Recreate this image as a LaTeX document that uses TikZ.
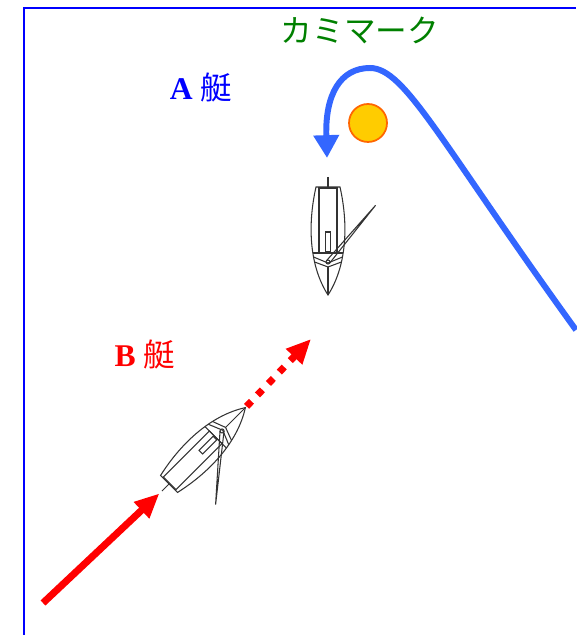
\documentclass[tikz,border=0pt]{standalone}
\usepackage{fontspec}
\setmainfont{Liberation Serif}
\newfontfamily\jp{Noto Sans CJK JP}
\usetikzlibrary{arrows.meta}

\definecolor{courseblue}{HTML}{3366FF}
\definecolor{buoyfill}{HTML}{FFCC00}
\definecolor{buoyline}{HTML}{FF6600}

% a dinghy seen from above: bow along +x, stern at the origin
% #1 = name prefix, #2 = boom angle
\newcommand\yacht[2]{%
  \draw (0,-12) .. controls (40,-21) and (80,-18) .. (108,0)
        .. controls (80,18) and (40,21) .. (0,12) -- cycle;
  \draw (1,-9) rectangle (66,9);
  \draw (45,-2.5) rectangle (65,2.5);
  \draw (66,-15.2) -- (66,15.2);
  \draw (70,-14.5) -- (76,0) -- (70,14.5);
  \draw (75,-13.4) -- (80,0) -- (75,13.4);
  \draw (80,0) -- (108,0);
  \draw (-10,0) -- (0,0);
  \draw (75,0) circle (2);
  % boom
  \begin{scope}[shift={(75,0)}, rotate=#2]
    \draw (0,-2) -- (74,0) -- (0,2);
  \end{scope}
  \coordinate (#1 bow) at (108,0);
  \coordinate (#1 stern) at (-10,0);
}

\begin{document}
\begin{tikzpicture}[x=.02cm, y=.02cm,
    boat/.style={draw=black!80, line width=.6pt},
    label/.style={font=\fontsize{18}{21}\selectfont},
    redarrow/.style={red, line width=4pt, -{Triangle[length=14pt,width=12pt]}},
    coursearrow/.style={courseblue, line width=3.4pt, -{Triangle[length=13pt,width=14pt]}}]
	\useasboundingbox (0,0) rectangle (576,635);

	% frame
	\draw[blue, line width=.6pt] (24,0) -- (24,627) -- (576,627);

	% mark and labels
	\node[label, green!50!black] (title) at (360,605) {\jp カミマーク};
	\node[circle, draw=buoyline, fill=buoyfill, line width=1pt, minimum size=.76cm, inner sep=0pt] (buoy) at (368,512) {};
	\node[label, blue] (labelA) at (201,547) {\textbf{A} {\jp 艇}};
	\node[label, red] (labelB) at (145,280) {\textbf{B} {\jp 艇}};

	% boats
	\begin{scope}[boat, shift={(328,448)}, rotate=-90]
		\yacht{A}{140}
	\end{scope}
	\begin{scope}[boat, shift={(169,151)}, rotate=45]
		\yacht{B}{-140}
	\end{scope}

	% course of A round the mark
	\coordinate (Ain) at (576,305);
	\coordinate (Aturn) at (327,477);
	\draw[coursearrow] (Ain) .. controls (440,493) and (405,567) .. (370,567)
		.. controls (340,567) and (325,540) .. (Aturn);

	% course of B
	\coordinate (Bfrom) at (43,32);
	\coordinate (Bnext) at (311,296);
	\draw[redarrow, shorten >=2pt] (Bfrom) -- (B stern);
	\draw[redarrow, dash pattern=on 4pt off 5pt, shorten <=1pt] (B bow) -- (Bnext);
\end{tikzpicture}
\end{document}
